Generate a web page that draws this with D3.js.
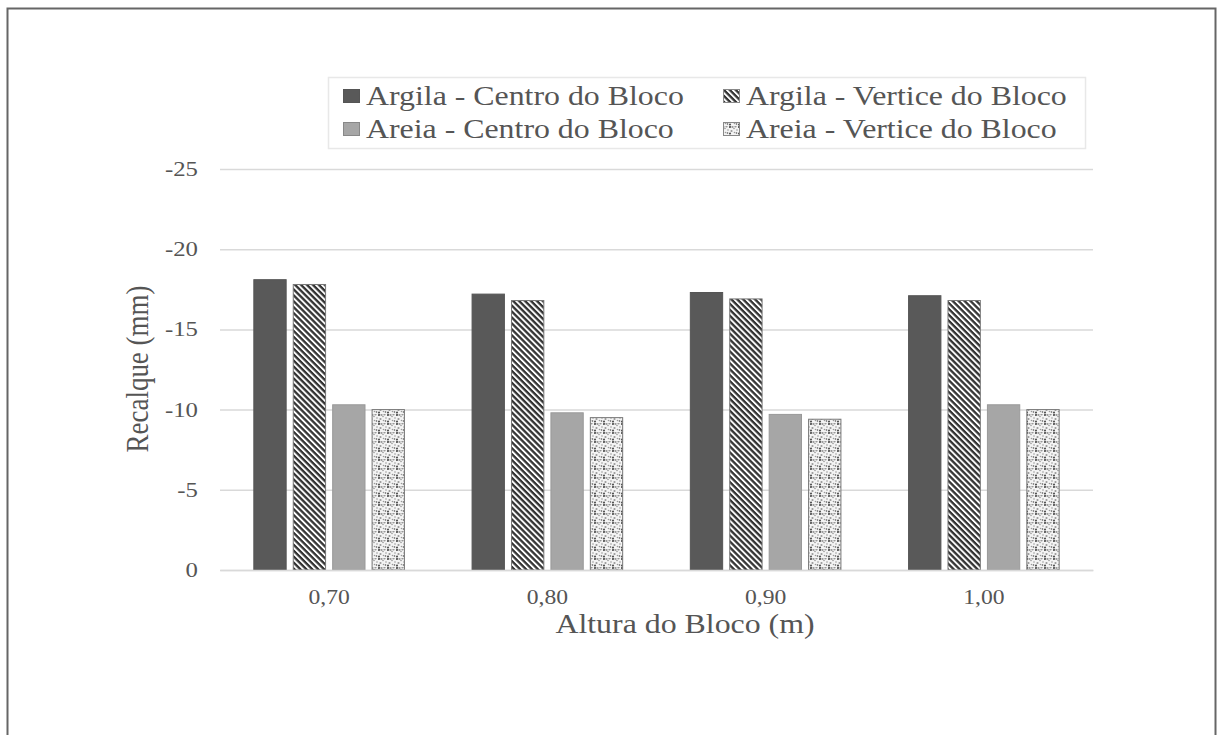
<!DOCTYPE html>
<html><head><meta charset="utf-8">
<script src="https://cdn.jsdelivr.net/npm/d3@7"></script>
<style>html,body{margin:0;padding:0;background:#fff;}svg{display:block;}</style>
</head><body>
<script>
const categories = ["0,70", "0,80", "0,90", "1,00"];
const seriesNames = ["Argila - Centro do Bloco", "Argila - Vertice do Bloco", "Areia - Centro do Bloco", "Areia - Vertice do Bloco"];
const argilaCentro = [-18.1, -17.2, -17.3, -17.1];
const argilaVertice = [-17.8, -16.8, -16.9, -16.8];
const areiaCentro = [-10.3, -9.8, -9.7, -10.3];
const areiaVertice = [-10.0, -9.5, -9.4, -10.0];
const yTicks = [0, -5, -10, -15, -20, -25];
const xTitle = "Altura do Bloco (m)";
const yTitle = "Recalque (mm)";

(function(){
const series = [argilaCentro, argilaVertice, areiaCentro, areiaVertice];
const fills = ["#595959", "url(#hatch)", "#a6a6a6", "url(#dots)"];
const SX = 1.18; // horizontal stretch of the text in the reference image

const W = 1222, H = 735;
const svg = d3.select("body").append("svg").attr("width", W).attr("height", H);
const defs = svg.append("defs");
const hatch = defs.append("pattern").attr("id", "hatch").attr("patternUnits", "userSpaceOnUse")
  .attr("width", 4.2).attr("height", 4.2).attr("patternTransform", "rotate(45)");
hatch.append("rect").attr("width", 4.2).attr("height", 4.2).attr("fill", "#fff");
hatch.append("rect").attr("width", 4.2).attr("height", 2.3).attr("fill", "#333");
const dots = defs.append("pattern").attr("id", "dots").attr("patternUnits", "userSpaceOnUse")
  .attr("width", 9).attr("height", 9);
dots.append("rect").attr("width", 9).attr("height", 9).attr("fill", "#f4f4f4");
[[1,1],[5,2.5],[2.5,5],[7.5,7],[3.5,1],[8,4],[1,7.5],[5.5,6.5],[6.5,0.5]].forEach(([px,py],i)=>{
  dots.append("circle").attr("cx", px).attr("cy", py).attr("r", i%2?0.8:1.1).attr("fill", i%3?"#999":"#555");
});

const font = "'Liberation Serif', Tinos, 'Times New Roman', serif";
const txt = "#555";
function stext(x, y, s, size, anchor) {
  const g = svg.append("g").attr("transform", `translate(${x},${y}) scale(${SX},1)`);
  return g.append("text").attr("x", 0).attr("y", 0).attr("text-anchor", anchor || "start")
    .style("font-family", font).style("font-size", size + "px").attr("fill", txt).text(s);
}

// frame
svg.append("rect").attr("x", 7.5).attr("y", 8.5).attr("width", 1208).attr("height", 740)
  .attr("fill", "none").attr("stroke", "#666").attr("stroke-width", 2);

const pL = 220, pR = 1093, pT = 169, pB = 570;
const x = d3.scaleBand().domain(categories).range([pL, pR]).paddingInner(0.31).paddingOuter(0.155);
const xi = d3.scaleBand().domain(d3.range(4)).range([0, x.bandwidth()]).paddingInner(0.18);
const y = d3.scaleLinear().domain([0, -25]).range([pB, pT]);

// grid
const grid = svg.append("g").attr("transform", `translate(${pL},0)`)
  .call(d3.axisLeft(y).tickValues(yTicks).tickSize(-(pR-pL)).tickFormat(""));
grid.select(".domain").remove();
grid.selectAll(".tick line").attr("stroke", "#d9d9d9").attr("stroke-width", 1.5);
yTicks.forEach(v => stext(198, y(v) + 7, String(v), 21, "end"));

// bars
series.forEach((vals, si) => {
  svg.append("g").selectAll("rect").data(vals).join("rect")
    .attr("x", (d, i) => x(categories[i]) + xi(si))
    .attr("width", xi.bandwidth())
    .attr("y", d => y(d))
    .attr("height", d => y(0) - y(d))
    .attr("fill", fills[si])
    .attr("stroke", si === 0 ? "#555" : (si === 2 ? "#999" : "#777"))
    .attr("stroke-width", 1);
});

// x axis
const xa = svg.append("g").attr("transform", `translate(0,${pB})`).call(d3.axisBottom(x).tickSize(0).tickFormat(""));
xa.select(".domain").attr("stroke", "#d9d9d9").attr("stroke-width", 1.5);
categories.forEach(c => stext(x(c) + x.bandwidth() / 2, 604, c, 20, "middle"));

// titles
stext(685, 633, xTitle, 27, "middle");
svg.append("text").attr("transform", `translate(148,369) rotate(-90) scale(1,${SX})`).attr("text-anchor", "middle")
  .attr("fill", txt).style("font-family", font).style("font-size", "27px").text(yTitle);

// legend
svg.append("rect").attr("x", 328.5).attr("y", 77.5).attr("width", 757).attr("height", 71)
  .attr("fill", "#fff").attr("stroke", "#e8e8e8").attr("stroke-width", 1.5);
const legPos = [[343, 105], [723, 105], [343, 138], [723, 138]];
seriesNames.forEach((n, i) => {
  const [lx, ly] = legPos[i];
  svg.append("rect").attr("x", lx + 0.5).attr("y", ly - 15.5).attr("width", 16).attr("height", 13)
    .attr("fill", fills[i]).attr("stroke", i === 0 ? "#555" : "#888");
  stext(lx + 23, ly, n, 27, "start");
});
})();
</script>
</body></html>
